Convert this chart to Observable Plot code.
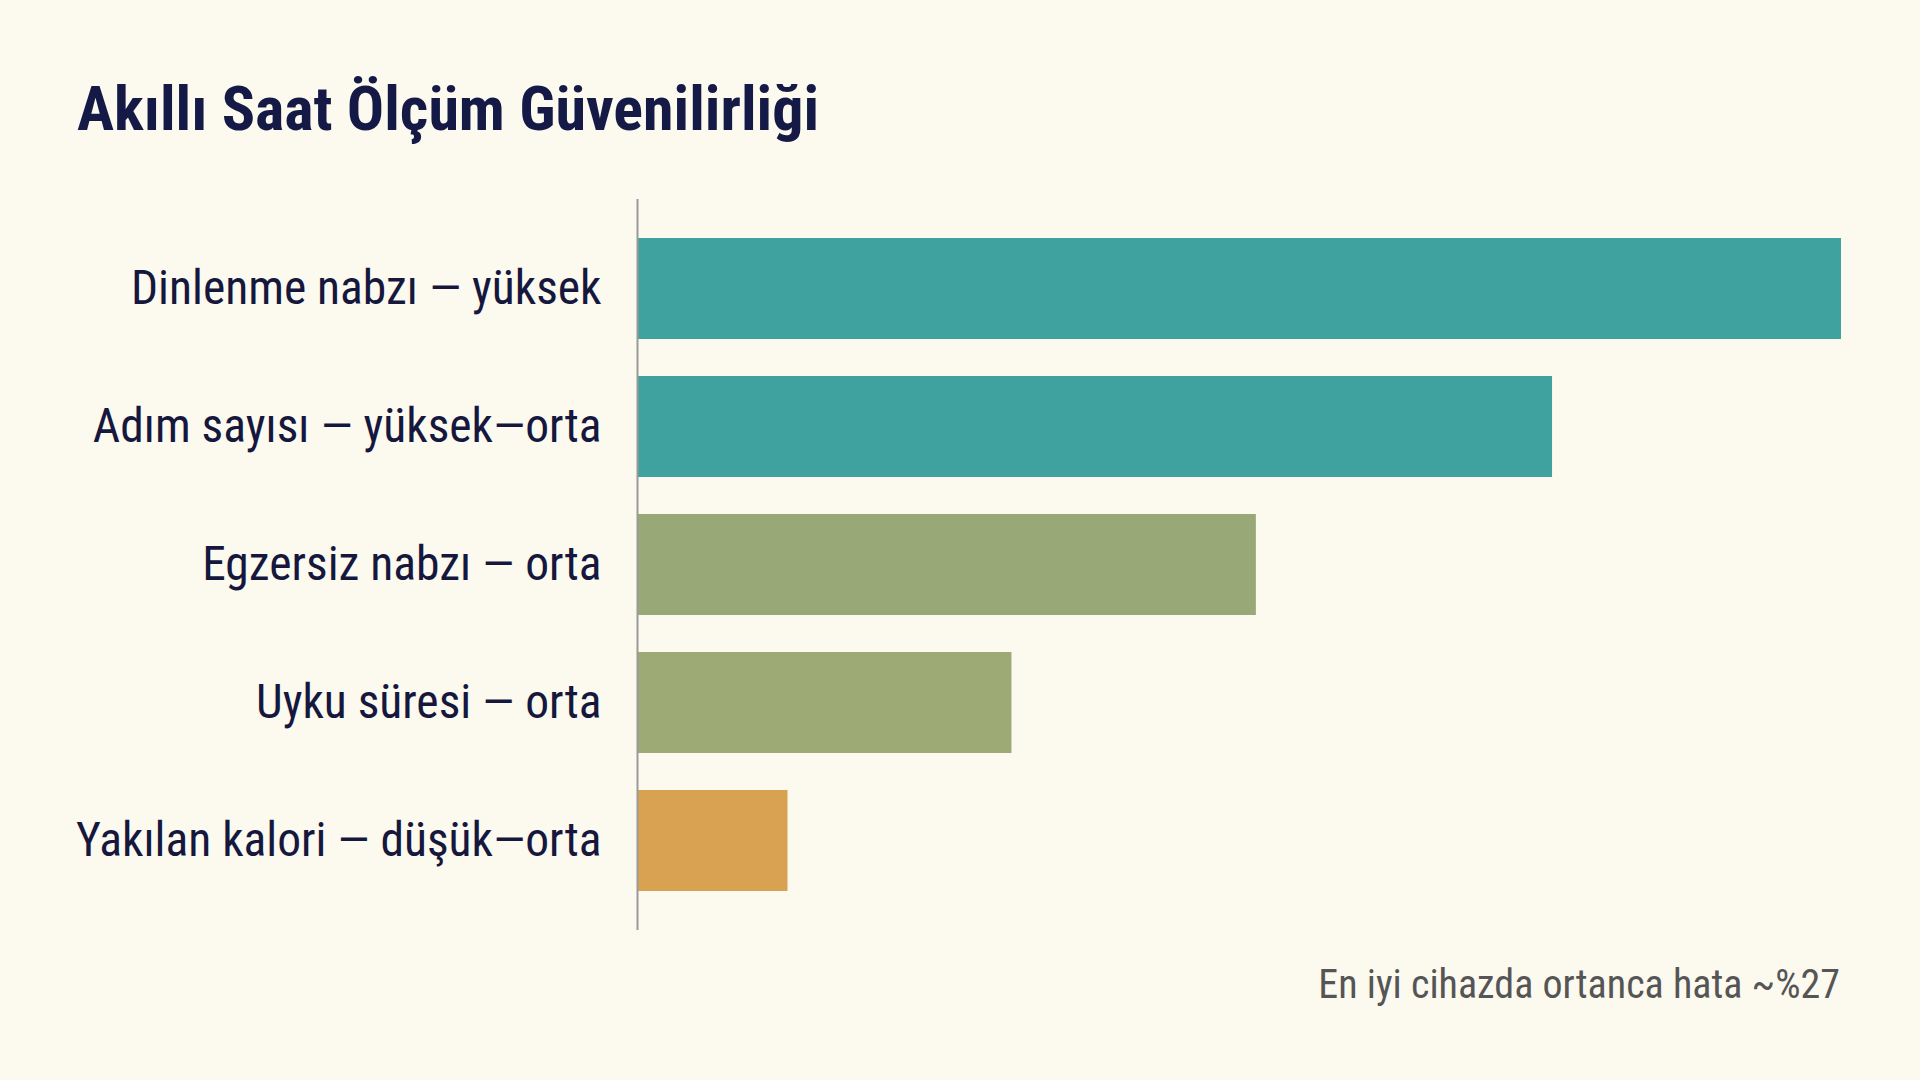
<!DOCTYPE html>
<html>
<head>
<meta charset="utf-8">
<script src="https://cdn.jsdelivr.net/npm/d3@7"></script>
<script src="https://cdn.jsdelivr.net/npm/@observablehq/plot@0.6"></script>
<style>
  html, body { margin: 0; padding: 0; background: #fcf9ef; }
  #page { position: relative; width: 1920px; height: 1080px; background: #fcf9ef; overflow: hidden;
          font-family: "Roboto Condensed", "Roboto", sans-serif; }
  #title { position: absolute; left: 77px; top: 78px; font-size: 62px; line-height: 1; font-weight: 700;
           color: #141a45; white-space: nowrap; }
  #chart { position: absolute; left: 0; top: 180px; }
  #caption { position: absolute; right: 80px; top: 965px; font-size: 40px; line-height: 1;
             color: #555555; white-space: nowrap; }
</style>
</head>
<body>
<div id="page">
  <div id="title">Akıllı Saat Ölçüm Güvenilirliği</div>
  <div id="chart"></div>
  <div id="caption">En iyi cihazda ortanca hata ~%27</div>
</div>
<script>
const categories = [
  "Dinlenme nabzı — yüksek",
  "Adım sayısı — yüksek—orta",
  "Egzersiz nabzı — orta",
  "Uyku süresi — orta",
  "Yakılan kalori — düşük—orta"
];
const values = [100, 76, 51.4, 31.1, 12.5];
const colors = ["#40a29f", "#40a29f", "#98a876", "#9daa76", "#d9a252"];

const data = categories.map((c, i) => ({category: c, value: values[i], color: colors[i]}));

const chart = Plot.plot({
  width: 1920,
  height: 770,
  marginLeft: 637,
  marginRight: 79,
  marginTop: 19,
  marginBottom: 20,
  style: {background: "transparent", fontFamily: "'Roboto Condensed', Roboto, sans-serif"},
  x: {domain: [0, 100], axis: null},
  y: {domain: categories, padding: 0.27, label: null},
  marks: [
    Plot.barX(data, {x: "value", y: "category", fill: "color"}),
    Plot.ruleX([0], {stroke: "#9a9a9a", strokeWidth: 2}),
    Plot.axisY({tickSize: 0, tickPadding: 36, fontSize: 47.5, fill: "#15173d", label: null})
  ]
});
document.getElementById("chart").appendChild(chart);
</script>
</body>
</html>
